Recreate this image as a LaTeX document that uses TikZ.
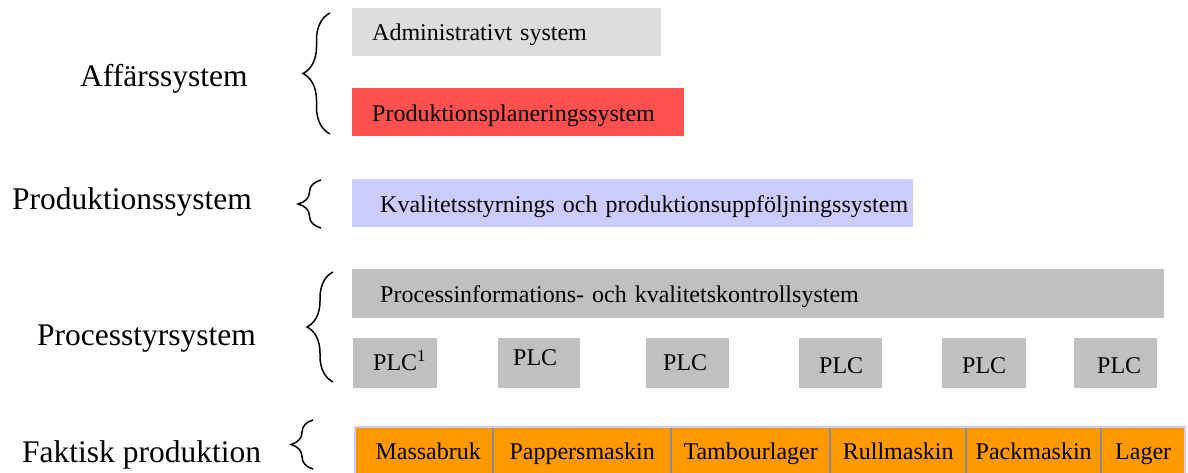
\documentclass[tikz,border=0pt]{standalone}
\usepackage{fontspec}
\setmainfont{Liberation Serif}
\usetikzlibrary{decorations.pathreplacing}
\definecolor{admgray}{HTML}{DDDDDD}
\definecolor{planred}{HTML}{FF5050}
\definecolor{qlilac}{HTML}{CCCCFF}
\definecolor{procgray}{HTML}{C0C0C0}
\definecolor{prodorange}{HTML}{FF9900}
\definecolor{divgray}{HTML}{8C8C8C}
\begin{document}
\begin{tikzpicture}[x=1pt,y=-1pt,
  lbl/.style={font=\fontsize{31.5}{36}\selectfont, inner sep=0pt, anchor=base west},
  sysbox/.style={font=\fontsize{24}{28}\selectfont, anchor=north west, inner sep=0pt,
    align=left, text depth=0pt, text height=17pt},
  bl/.style={text height=#1},
  cell/.style={font=\fontsize{24}{28}\selectfont, anchor=north west, inner sep=0pt,
    minimum height=46pt, fill=prodorange, text depth=0pt, text height=18pt},
  brc/.style={decorate, decoration={brace, amplitude=#1}, line width=1.5pt}]
\useasboundingbox (0,0) rectangle (1188,473);

% level labels
\node[lbl] (laff) at (80,87) {Affärssystem};
\node[lbl] (lprod) at (12,210) {Produktionssystem};
\node[lbl] (lproc) at (37,345) {Processtyrsystem};
\node[lbl] (lfakt) at (22,462) {Faktisk produktion};

% braces
\coordinate (b1s) at (330,134); \coordinate (b1e) at (330,13);
\coordinate (b2s) at (321,228); \coordinate (b2e) at (321,180);
\coordinate (b3s) at (333,382); \coordinate (b3e) at (333,272);
\coordinate (b4s) at (313,469); \coordinate (b4e) at (313,420);
\draw[brc=27] (b1s) -- (b1e);
\draw[brc=23] (b2s) -- (b2e);
\draw[brc=26] (b3s) -- (b3e);
\draw[brc=22] (b4s) -- (b4e);

% business systems
\node[sysbox, fill=admgray, text width=309pt, minimum height=48pt, bl=16pt] (adm) at (352,8)
  {\hspace*{20pt}\mbox{Administrativt system}};
\node[sysbox, fill=planred, text width=332pt, minimum height=48pt, bl=18pt] (plan) at (352,88)
  {\hspace*{20pt}\mbox{Produktionsplaneringssystem}};

% production system
\node[sysbox, fill=qlilac, text width=561pt, minimum height=48pt, bl=18pt] (kval) at (352,179)
  {\hspace*{28pt}\mbox{Kvalitetsstyrnings och produktionsuppföljningssystem}};

% process control
\node[sysbox, fill=procgray, text width=812pt, minimum height=49pt, bl=17pt] (pinfo) at (352,269)
  {\hspace*{28pt}\mbox{Processinformations- och kvalitetskontrollsystem}};

\node[sysbox, fill=procgray, text width=84pt, minimum height=50pt, bl=14pt] (plc1) at (353,338)
  {\hspace*{20pt}\mbox{PLC\textsuperscript{1}}};
\node[sysbox, fill=procgray, text width=82pt, minimum height=50pt, bl=4pt] (plc2) at (498,338)
  {\hspace*{15pt}\mbox{PLC}};
\node[sysbox, fill=procgray, text width=83pt, minimum height=50pt, bl=14pt] (plc3) at (646,338)
  {\hspace*{17pt}\mbox{PLC}};
\node[sysbox, fill=procgray, text width=83pt, minimum height=50pt, bl=20pt] (plc4) at (799,338)
  {\hspace*{20pt}\mbox{PLC}};
\node[sysbox, fill=procgray, text width=84pt, minimum height=50pt, bl=20pt] (plc5) at (942,338)
  {\hspace*{20pt}\mbox{PLC}};
\node[sysbox, fill=procgray, text width=83pt, minimum height=50pt, bl=20pt] (plc6) at (1074,338)
  {\hspace*{23pt}\mbox{PLC}};

% actual production
\node[cell, minimum width=138pt] (c1) at (355,427) {\hspace*{8pt}Massabruk};
\node[cell, minimum width=178pt] (c2) at (493,427) {Pappersmaskin};
\node[cell, minimum width=159pt] (c3) at (671,427) {Tambourlager};
\node[cell, minimum width=136pt] (c4) at (830,427) {Rullmaskin};
\node[cell, minimum width=135pt] (c5) at (966,427) {Packmaskin};
\node[cell, minimum width=84pt] (c6) at (1101,427) {Lager};
\foreach \a in {c1,c2,c3,c4,c5}
  \draw[divgray, line width=2pt] (\a.north east) -- (\a.south east);
\draw[qlilac, line width=2pt] (c1.south west) -- (c1.north west) -- (c6.north east) -- (c6.south east);
\end{tikzpicture}
\end{document}
